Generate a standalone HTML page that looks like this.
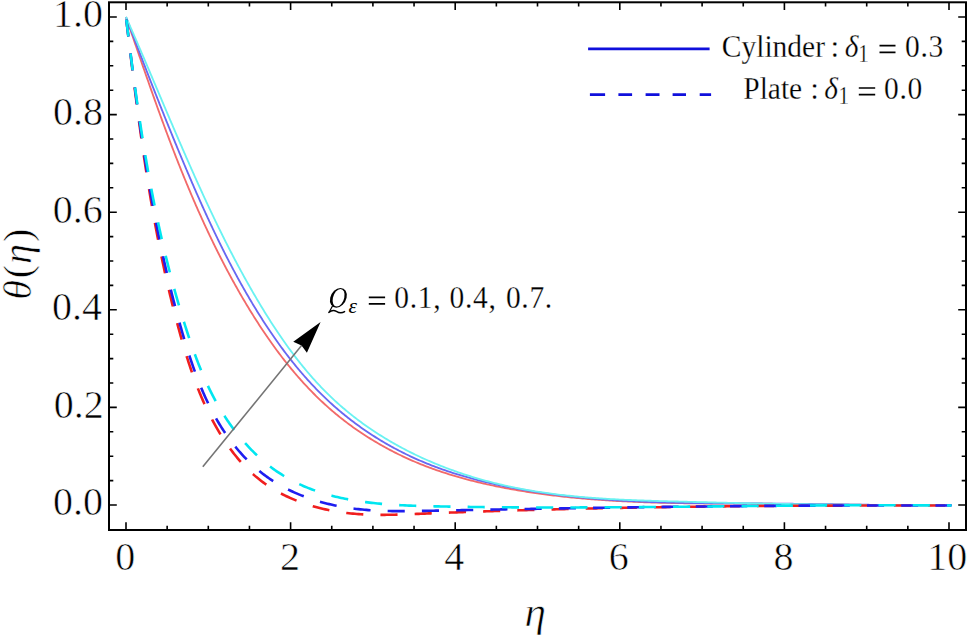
<!DOCTYPE html>
<html><head><meta charset="utf-8"><style>
html,body{margin:0;padding:0;background:#fff;}
body{width:968px;height:636px;overflow:hidden;}
svg{display:block;}
text{font-family:"Liberation Serif",serif;fill:#000;font-kerning:none;stroke:#fff;stroke-width:0.6px;paint-order:fill;}
text.s{stroke-width:0.25px;}
text.n{stroke:none;}
</style></head><body>
<svg width="968" height="636" viewBox="0 0 968 636">
<rect width="968" height="636" fill="#fff"/>
<path d="M125.99 17.01 L126.58 18.71 L127.16 20.42 L127.75 22.13 L128.34 23.84 L128.92 25.54 L129.51 27.25 L130.09 28.96 L130.68 30.67 L131.26 32.38 L131.85 34.09 L132.43 35.80 L133.02 37.51 L133.61 39.22 L134.19 40.93 L134.78 42.65 L135.37 44.36 L135.96 46.07 L136.54 47.78 L137.13 49.49 L137.72 51.20 L138.31 52.92 L138.90 54.63 L139.49 56.34 L140.08 58.05 L140.67 59.77 L141.26 61.48 L141.85 63.19 L142.44 64.90 L143.04 66.62 L143.63 68.33 L144.23 70.04 L144.82 71.75 L145.42 73.47 L146.01 75.18 L146.61 76.89 L147.21 78.60 L147.81 80.32 L148.41 82.03 L149.01 83.74 L149.61 85.45 L150.21 87.16 L150.82 88.88 L151.42 90.59 L152.03 92.30 L152.63 94.01 L153.24 95.72 L153.85 97.43 L154.46 99.14 L155.07 100.85 L155.68 102.56 L156.29 104.27 L156.91 105.98 L157.52 107.69 L158.14 109.40 L158.76 111.10 L159.37 112.81 L159.99 114.52 L160.62 116.23 L161.24 117.93 L161.86 119.64 L162.49 121.35 L163.12 123.05 L163.75 124.76 L164.38 126.46 L165.01 128.16 L165.64 129.87 L166.28 131.57 L166.91 133.27 L167.55 134.97 L168.19 136.67 L168.83 138.38 L169.47 140.08 L170.12 141.77 L170.77 143.47 L171.41 145.17 L172.06 146.87 L172.72 148.57 L173.37 150.26 L174.03 151.96 L174.68 153.65 L175.34 155.35 L176.00 157.04 L176.67 158.73 L177.33 160.42 L178.00 162.12 L178.67 163.81 L179.34 165.49 L180.01 167.18 L180.69 168.87 L181.37 170.56 L182.05 172.24 L182.73 173.93 L183.41 175.61 L184.10 177.30 L184.79 178.98 L185.48 180.66 L186.17 182.34 L186.87 184.02 L187.57 185.70 L188.27 187.38 L188.97 189.06 L189.68 190.73 L190.38 192.41 L191.09 194.08 L191.81 195.75 L192.52 197.43 L193.24 199.10 L193.96 200.77 L194.68 202.43 L195.41 204.10 L196.14 205.77 L196.87 207.43 L197.60 209.10 L198.34 210.76 L199.08 212.42 L199.82 214.08 L200.56 215.74 L201.31 217.40 L202.06 219.05 L202.82 220.71 L203.57 222.36 L204.33 224.02 L205.09 225.67 L205.86 227.32 L206.63 228.97 L207.40 230.61 L208.17 232.26 L208.95 233.91 L209.73 235.55 L210.52 237.19 L211.30 238.83 L212.09 240.47 L212.89 242.11 L213.68 243.74 L214.48 245.38 L215.29 247.01 L216.09 248.64 L216.90 250.28 L217.71 251.90 L218.53 253.53 L219.35 255.16 L220.17 256.78 L221.00 258.40 L221.83 260.02 L222.67 261.64 L223.50 263.26 L224.34 264.88 L225.19 266.49 L226.04 268.11 L226.89 269.72 L227.74 271.33 L228.60 272.93 L229.47 274.54 L230.33 276.14 L231.20 277.75 L232.08 279.35 L232.95 280.95 L233.84 282.54 L234.72 284.14 L235.61 285.73 L236.51 287.32 L237.40 288.91 L238.30 290.50 L239.21 292.09 L240.12 293.67 L241.03 295.25 L241.95 296.84 L242.87 298.41 L243.80 299.99 L244.73 301.56 L245.66 303.14 L246.60 304.71 L247.54 306.28 L248.49 307.84 L249.44 309.41 L250.40 310.97 L251.36 312.53 L252.32 314.08 L253.29 315.63 L254.26 317.19 L255.24 318.73 L256.22 320.28 L257.21 321.82 L258.20 323.36 L259.20 324.89 L260.20 326.43 L261.20 327.95 L262.22 329.48 L263.23 331.00 L264.25 332.52 L265.28 334.03 L266.31 335.55 L267.34 337.05 L268.38 338.56 L269.43 340.05 L270.48 341.55 L271.54 343.04 L272.60 344.53 L273.66 346.01 L274.74 347.49 L275.81 348.96 L276.90 350.43 L277.98 351.89 L279.08 353.35 L280.17 354.81 L281.28 356.26 L282.39 357.70 L283.50 359.14 L284.62 360.57 L285.75 362.00 L286.88 363.43 L288.02 364.85 L289.16 366.26 L290.31 367.67 L291.47 369.07 L292.63 370.46 L293.80 371.85 L294.97 373.24 L296.15 374.62 L297.34 375.99 L298.53 377.36 L299.72 378.72 L300.93 380.07 L302.14 381.42 L303.35 382.76 L304.57 384.09 L305.80 385.42 L307.04 386.74 L308.28 388.05 L309.53 389.36 L310.78 390.66 L312.04 391.96 L313.31 393.24 L314.58 394.52 L315.86 395.79 L317.15 397.06 L318.44 398.31 L319.74 399.56 L321.05 400.80 L322.36 402.04 L323.68 403.27 L325.01 404.48 L326.34 405.69 L327.68 406.90 L329.03 408.09 L330.39 409.28 L331.75 410.46 L333.12 411.63 L334.49 412.79 L335.88 413.94 L337.27 415.08 L338.66 416.22 L340.07 417.35 L341.48 418.47 L342.89 419.58 L344.32 420.68 L345.75 421.78 L347.18 422.87 L348.62 423.94 L350.07 425.01 L351.53 426.07 L352.99 427.13 L354.46 428.17 L355.93 429.21 L357.41 430.24 L358.90 431.26 L360.39 432.27 L361.89 433.27 L363.39 434.26 L364.90 435.25 L366.41 436.22 L367.93 437.19 L369.46 438.15 L370.99 439.10 L372.53 440.05 L374.07 440.98 L375.62 441.91 L377.18 442.82 L378.74 443.73 L380.30 444.63 L381.87 445.52 L383.45 446.40 L385.03 447.28 L386.61 448.14 L388.20 449.00 L389.80 449.85 L391.40 450.69 L393.00 451.52 L394.61 452.34 L396.23 453.15 L397.85 453.96 L399.47 454.75 L401.10 455.54 L402.73 456.32 L404.37 457.09 L406.01 457.85 L407.66 458.60 L409.31 459.34 L410.97 460.08 L412.63 460.80 L414.29 461.52 L415.96 462.23 L417.63 462.93 L419.31 463.62 L420.99 464.30 L422.67 464.97 L424.36 465.63 L426.05 466.29 L427.74 466.93 L429.44 467.57 L431.15 468.20 L432.85 468.82 L434.56 469.43 L436.27 470.04 L437.99 470.63 L439.71 471.22 L441.43 471.80 L443.16 472.37 L444.89 472.94 L446.62 473.49 L448.35 474.04 L450.09 474.58 L451.83 475.11 L453.57 475.64 L455.32 476.16 L457.07 476.67 L458.82 477.17 L460.57 477.67 L462.33 478.16 L464.08 478.64 L465.84 479.11 L467.60 479.58 L469.37 480.05 L471.13 480.50 L472.90 480.95 L474.67 481.39 L476.44 481.83 L478.22 482.26 L479.99 482.68 L481.77 483.10 L483.55 483.51 L485.33 483.91 L487.11 484.31 L488.89 484.70 L490.67 485.09 L492.46 485.47 L494.25 485.85 L496.03 486.22 L497.82 486.58 L499.61 486.94 L501.40 487.29 L503.19 487.64 L504.98 487.99 L506.77 488.32 L508.57 488.66 L510.36 488.99 L512.15 489.31 L513.95 489.63 L515.74 489.94 L517.54 490.25 L519.33 490.56 L521.13 490.86 L522.93 491.15 L524.72 491.44 L526.52 491.73 L528.32 492.01 L530.12 492.28 L531.92 492.56 L533.72 492.82 L535.52 493.09 L537.32 493.35 L539.12 493.60 L540.92 493.85 L542.73 494.10 L544.53 494.34 L546.33 494.58 L548.14 494.81 L549.94 495.04 L551.75 495.26 L553.55 495.48 L555.36 495.70 L557.16 495.91 L558.97 496.12 L560.78 496.33 L562.58 496.53 L564.39 496.73 L566.20 496.92 L568.01 497.11 L569.82 497.30 L571.63 497.48 L573.44 497.66 L575.25 497.83 L577.06 498.01 L578.87 498.17 L580.68 498.34 L582.49 498.50 L584.30 498.66 L586.11 498.81 L587.93 498.96 L589.74 499.11 L591.55 499.26 L593.37 499.40 L595.18 499.54 L596.99 499.67 L598.81 499.81 L600.62 499.93 L602.44 500.06 L604.25 500.18 L606.07 500.30 L607.88 500.42 L609.70 500.54 L611.52 500.65 L613.33 500.76 L615.15 500.86 L616.97 500.96 L618.78 501.06 L620.60 501.16 L622.42 501.26 L624.24 501.35 L626.05 501.44 L627.87 501.53 L629.69 501.61 L631.51 501.70 L633.33 501.78 L635.15 501.86 L636.97 501.93 L638.79 502.00 L640.61 502.08 L642.43 502.14 L644.25 502.21 L646.07 502.28 L647.89 502.34 L649.71 502.40 L651.53 502.46 L653.35 502.51 L655.17 502.57 L656.99 502.62 L658.81 502.67 L660.63 502.72 L662.46 502.77 L664.28 502.82 L666.10 502.86 L667.92 502.90 L669.74 502.94 L671.56 502.98 L673.39 503.02 L675.21 503.06 L677.03 503.09 L678.85 503.12 L680.67 503.15 L682.50 503.18 L684.32 503.21 L686.14 503.24 L687.96 503.27 L689.79 503.29 L691.61 503.32 L693.43 503.34 L695.25 503.36 L697.08 503.38 L698.90 503.40 L700.72 503.42 L702.54 503.44 L704.36 503.46 L706.19 503.47 L708.01 503.49 L709.83 503.50 L711.65 503.52 L713.48 503.53 L715.30 503.54 L717.12 503.55 L718.94 503.56 L720.76 503.57 L722.59 503.58 L724.41 503.59 L726.23 503.60 L728.05 503.61 L729.87 503.62 L731.69 503.63 L733.51 503.63 L735.34 503.64 L737.16 503.65 L738.98 503.65 L740.80 503.66 L742.62 503.67 L744.44 503.67 L746.26 503.68 L748.08 503.69 L749.90 503.69 L751.72 503.70 L753.54 503.71 L755.36 503.71 L757.18 503.72 L759.00 503.73 L760.82 503.73 L762.63 503.74 L764.45 503.75 L766.27 503.76 L768.09 503.77 L769.91 503.78 L771.73 503.79 L773.54 503.80 L775.36 503.81 L777.18 503.82 L778.99 503.83 L780.81 503.84 L782.63 503.86 L784.44 503.87 L786.26 503.89 L788.07 503.90 L789.89 503.92 L791.70 503.93 L793.52 503.95 L795.33 503.97 L797.15 503.99 L798.96 504.01 L800.78 504.02 L802.59 504.04 L804.40 504.06 L806.22 504.08 L808.03 504.11 L809.85 504.13 L811.66 504.15 L813.47 504.17 L815.28 504.19 L817.10 504.21 L818.91 504.24 L820.72 504.26 L822.54 504.28 L824.35 504.31 L826.16 504.33 L827.97 504.35 L829.79 504.38 L831.60 504.40 L833.41 504.42 L835.22 504.45 L837.03 504.47 L838.85 504.50 L840.66 504.52 L842.47 504.54 L844.28 504.57 L846.10 504.59 L847.91 504.61 L849.72 504.64 L851.53 504.66 L853.34 504.68 L855.16 504.71 L856.97 504.73 L858.78 504.75 L860.59 504.77 L862.41 504.80 L864.22 504.82 L866.03 504.84 L867.85 504.86 L869.66 504.88 L871.47 504.90 L873.29 504.92 L875.10 504.94 L876.91 504.96 L878.73 504.98 L880.54 504.99 L882.36 505.01 L884.17 505.03 L885.99 505.04 L887.80 505.06 L889.61 505.08 L891.43 505.09 L893.25 505.10 L895.06 505.12 L896.88 505.13 L898.69 505.14 L900.51 505.15 L902.33 505.16 L904.14 505.17 L905.96 505.18 L907.78 505.19 L909.60 505.19 L911.41 505.20 L913.23 505.20 L915.05 505.21 L916.87 505.21 L918.69 505.21 L920.51 505.21 L922.33 505.21 L924.15 505.21 L925.97 505.21 L927.79 505.21 L929.61 505.20 L931.43 505.20 L933.26 505.19 L935.08 505.18 L936.90 505.18 L938.72 505.16 L940.55 505.15 L942.37 505.14 L944.20 505.13 L946.02 505.11 L947.85 505.10 L949.67 505.08 L951.50 505.06" fill="none" stroke="#f26a6a" stroke-width="1.85"/>
<path d="M126.00 17.00 L126.64 18.69 L127.28 20.38 L127.92 22.07 L128.56 23.76 L129.20 25.45 L129.84 27.14 L130.48 28.83 L131.13 30.52 L131.77 32.21 L132.41 33.90 L133.05 35.58 L133.70 37.27 L134.34 38.96 L134.98 40.65 L135.63 42.33 L136.27 44.02 L136.92 45.71 L137.56 47.39 L138.21 49.08 L138.85 50.76 L139.50 52.45 L140.15 54.14 L140.79 55.82 L141.44 57.50 L142.09 59.19 L142.74 60.87 L143.39 62.56 L144.04 64.24 L144.69 65.92 L145.34 67.61 L145.99 69.29 L146.64 70.97 L147.30 72.65 L147.95 74.34 L148.60 76.02 L149.26 77.70 L149.91 79.38 L150.57 81.06 L151.23 82.74 L151.88 84.42 L152.54 86.10 L153.20 87.78 L153.86 89.46 L154.52 91.14 L155.18 92.82 L155.84 94.50 L156.50 96.17 L157.16 97.85 L157.83 99.53 L158.49 101.21 L159.15 102.88 L159.82 104.56 L160.49 106.24 L161.15 107.91 L161.82 109.59 L162.49 111.27 L163.16 112.94 L163.83 114.62 L164.50 116.29 L165.17 117.97 L165.85 119.64 L166.52 121.31 L167.20 122.99 L167.87 124.66 L168.55 126.33 L169.23 128.01 L169.91 129.68 L170.59 131.35 L171.27 133.02 L171.95 134.70 L172.63 136.37 L173.32 138.04 L174.00 139.71 L174.69 141.38 L175.37 143.05 L176.06 144.72 L176.75 146.39 L177.44 148.06 L178.13 149.73 L178.82 151.40 L179.52 153.07 L180.21 154.74 L180.91 156.40 L181.60 158.07 L182.30 159.74 L183.00 161.41 L183.70 163.07 L184.40 164.74 L185.11 166.40 L185.81 168.07 L186.52 169.74 L187.22 171.40 L187.93 173.07 L188.64 174.73 L189.35 176.39 L190.06 178.06 L190.78 179.72 L191.49 181.38 L192.21 183.05 L192.93 184.71 L193.65 186.37 L194.37 188.03 L195.09 189.69 L195.82 191.35 L196.55 193.01 L197.28 194.66 L198.01 196.32 L198.74 197.98 L199.47 199.63 L200.21 201.29 L200.95 202.94 L201.69 204.60 L202.43 206.25 L203.18 207.90 L203.93 209.55 L204.67 211.20 L205.43 212.85 L206.18 214.50 L206.94 216.15 L207.69 217.79 L208.46 219.44 L209.22 221.08 L209.98 222.72 L210.75 224.37 L211.52 226.01 L212.30 227.65 L213.07 229.29 L213.85 230.92 L214.63 232.56 L215.41 234.20 L216.20 235.83 L216.99 237.46 L217.78 239.10 L218.58 240.73 L219.37 242.36 L220.18 243.98 L220.98 245.61 L221.79 247.24 L222.59 248.86 L223.41 250.48 L224.22 252.10 L225.04 253.72 L225.86 255.34 L226.69 256.96 L227.52 258.57 L228.35 260.19 L229.18 261.80 L230.02 263.41 L230.86 265.02 L231.71 266.63 L232.56 268.23 L233.41 269.84 L234.26 271.44 L235.12 273.04 L235.99 274.64 L236.85 276.24 L237.72 277.83 L238.60 279.43 L239.47 281.02 L240.35 282.61 L241.24 284.20 L242.13 285.79 L243.02 287.37 L243.92 288.95 L244.82 290.53 L245.72 292.11 L246.63 293.69 L247.54 295.26 L248.46 296.84 L249.38 298.41 L250.30 299.98 L251.23 301.54 L252.17 303.11 L253.10 304.67 L254.05 306.23 L254.99 307.79 L255.94 309.34 L256.90 310.90 L257.86 312.45 L258.82 314.00 L259.79 315.54 L260.76 317.08 L261.74 318.62 L262.72 320.16 L263.71 321.69 L264.70 323.22 L265.70 324.74 L266.70 326.27 L267.71 327.79 L268.72 329.30 L269.73 330.82 L270.75 332.32 L271.78 333.83 L272.81 335.33 L273.84 336.83 L274.89 338.32 L275.93 339.81 L276.98 341.30 L278.04 342.78 L279.10 344.25 L280.17 345.73 L281.24 347.20 L282.32 348.66 L283.40 350.12 L284.49 351.57 L285.58 353.02 L286.68 354.47 L287.78 355.91 L288.89 357.34 L290.01 358.77 L291.13 360.19 L292.26 361.61 L293.39 363.03 L294.53 364.44 L295.67 365.84 L296.82 367.24 L297.97 368.63 L299.14 370.02 L300.30 371.40 L301.48 372.77 L302.66 374.14 L303.84 375.50 L305.03 376.86 L306.23 378.21 L307.43 379.55 L308.64 380.89 L309.86 382.22 L311.08 383.55 L312.31 384.87 L313.54 386.18 L314.78 387.48 L316.03 388.78 L317.29 390.07 L318.55 391.36 L319.81 392.63 L321.08 393.90 L322.36 395.17 L323.65 396.42 L324.94 397.67 L326.24 398.91 L327.55 400.14 L328.86 401.37 L330.18 402.59 L331.51 403.80 L332.84 405.00 L334.18 406.19 L335.53 407.38 L336.88 408.56 L338.24 409.73 L339.61 410.89 L340.98 412.05 L342.36 413.20 L343.75 414.34 L345.14 415.47 L346.54 416.59 L347.94 417.71 L349.36 418.81 L350.77 419.91 L352.20 421.00 L353.63 422.09 L355.06 423.16 L356.51 424.23 L357.95 425.29 L359.41 426.34 L360.87 427.38 L362.33 428.42 L363.81 429.44 L365.28 430.46 L366.77 431.47 L368.26 432.47 L369.75 433.46 L371.25 434.45 L372.76 435.42 L374.27 436.39 L375.78 437.35 L377.31 438.30 L378.83 439.25 L380.37 440.18 L381.90 441.11 L383.45 442.02 L385.00 442.93 L386.55 443.83 L388.11 444.73 L389.67 445.61 L391.24 446.48 L392.82 447.35 L394.40 448.21 L395.98 449.06 L397.57 449.90 L399.16 450.73 L400.76 451.55 L402.36 452.37 L403.97 453.17 L405.58 453.97 L407.20 454.76 L408.82 455.54 L410.45 456.31 L412.08 457.07 L413.71 457.82 L415.35 458.57 L417.00 459.30 L418.64 460.03 L420.30 460.75 L421.95 461.46 L423.61 462.16 L425.28 462.85 L426.95 463.53 L428.62 464.20 L430.29 464.87 L431.97 465.53 L433.66 466.17 L435.35 466.81 L437.04 467.44 L438.73 468.07 L440.43 468.68 L442.13 469.29 L443.84 469.89 L445.54 470.48 L447.26 471.06 L448.97 471.64 L450.69 472.20 L452.41 472.76 L454.13 473.31 L455.86 473.86 L457.59 474.40 L459.32 474.92 L461.05 475.45 L462.79 475.96 L464.53 476.47 L466.27 476.97 L468.02 477.47 L469.76 477.95 L471.51 478.43 L473.26 478.91 L475.02 479.37 L476.77 479.83 L478.53 480.29 L480.29 480.73 L482.05 481.18 L483.81 481.61 L485.58 482.04 L487.34 482.46 L489.11 482.88 L490.88 483.29 L492.65 483.69 L494.42 484.09 L496.19 484.48 L497.97 484.87 L499.74 485.25 L501.52 485.63 L503.30 486.00 L505.08 486.36 L506.86 486.72 L508.64 487.07 L510.42 487.42 L512.20 487.77 L513.98 488.11 L515.76 488.44 L517.55 488.77 L519.33 489.09 L521.12 489.41 L522.90 489.73 L524.69 490.04 L526.48 490.34 L528.26 490.64 L530.05 490.93 L531.84 491.22 L533.63 491.51 L535.42 491.79 L537.21 492.07 L539.00 492.34 L540.79 492.61 L542.59 492.87 L544.38 493.13 L546.17 493.38 L547.97 493.63 L549.76 493.88 L551.56 494.12 L553.35 494.36 L555.15 494.59 L556.94 494.82 L558.74 495.04 L560.54 495.26 L562.34 495.48 L564.14 495.69 L565.93 495.90 L567.73 496.10 L569.53 496.31 L571.33 496.50 L573.14 496.70 L574.94 496.89 L576.74 497.07 L578.54 497.25 L580.34 497.43 L582.15 497.61 L583.95 497.78 L585.76 497.94 L587.56 498.11 L589.36 498.27 L591.17 498.43 L592.98 498.58 L594.78 498.73 L596.59 498.88 L598.39 499.02 L600.20 499.16 L602.01 499.30 L603.82 499.44 L605.63 499.57 L607.43 499.70 L609.24 499.82 L611.05 499.94 L612.86 500.06 L614.67 500.18 L616.48 500.29 L618.29 500.40 L620.10 500.51 L621.91 500.62 L623.72 500.72 L625.54 500.82 L627.35 500.92 L629.16 501.01 L630.97 501.10 L632.78 501.19 L634.60 501.28 L636.41 501.37 L638.22 501.45 L640.04 501.53 L641.85 501.61 L643.66 501.68 L645.48 501.75 L647.29 501.83 L649.11 501.89 L650.92 501.96 L652.73 502.03 L654.55 502.09 L656.36 502.15 L658.18 502.21 L659.99 502.26 L661.81 502.32 L663.63 502.37 L665.44 502.42 L667.26 502.47 L669.07 502.52 L670.89 502.56 L672.70 502.61 L674.52 502.65 L676.34 502.69 L678.15 502.73 L679.97 502.77 L681.78 502.81 L683.60 502.84 L685.42 502.87 L687.23 502.91 L689.05 502.94 L690.87 502.97 L692.68 503.00 L694.50 503.02 L696.32 503.05 L698.13 503.07 L699.95 503.10 L701.77 503.12 L703.58 503.14 L705.40 503.16 L707.21 503.18 L709.03 503.20 L710.85 503.22 L712.66 503.24 L714.48 503.25 L716.29 503.27 L718.11 503.28 L719.93 503.30 L721.74 503.31 L723.56 503.33 L725.37 503.34 L727.19 503.35 L729.00 503.36 L730.82 503.37 L732.63 503.39 L734.45 503.40 L736.26 503.41 L738.08 503.42 L739.89 503.43 L741.71 503.44 L743.52 503.45 L745.33 503.45 L747.15 503.46 L748.96 503.47 L750.77 503.48 L752.59 503.49 L754.40 503.50 L756.21 503.51 L758.03 503.52 L759.84 503.53 L761.65 503.54 L763.46 503.55 L765.27 503.56 L767.08 503.57 L768.89 503.58 L770.71 503.60 L772.52 503.61 L774.33 503.62 L776.14 503.64 L777.94 503.65 L779.75 503.66 L781.56 503.68 L783.37 503.70 L785.18 503.71 L786.99 503.73 L788.79 503.75 L790.60 503.76 L792.41 503.78 L794.22 503.80 L796.02 503.82 L797.83 503.84 L799.63 503.86 L801.44 503.89 L803.25 503.91 L805.05 503.93 L806.86 503.95 L808.66 503.98 L810.47 504.00 L812.27 504.02 L814.08 504.05 L815.88 504.07 L817.68 504.09 L819.49 504.12 L821.29 504.14 L823.10 504.17 L824.90 504.19 L826.70 504.22 L828.51 504.24 L830.31 504.27 L832.11 504.29 L833.92 504.32 L835.72 504.35 L837.52 504.37 L839.33 504.40 L841.13 504.42 L842.94 504.45 L844.74 504.47 L846.54 504.50 L848.35 504.52 L850.15 504.55 L851.95 504.57 L853.76 504.60 L855.56 504.62 L857.36 504.65 L859.17 504.67 L860.97 504.69 L862.78 504.72 L864.58 504.74 L866.38 504.76 L868.19 504.78 L869.99 504.81 L871.80 504.83 L873.60 504.85 L875.41 504.87 L877.21 504.89 L879.02 504.91 L880.82 504.93 L882.63 504.95 L884.44 504.97 L886.24 504.98 L888.05 505.00 L889.85 505.02 L891.66 505.03 L893.47 505.05 L895.28 505.06 L897.08 505.07 L898.89 505.09 L900.70 505.10 L902.51 505.11 L904.32 505.12 L906.13 505.13 L907.94 505.14 L909.75 505.15 L911.56 505.15 L913.37 505.16 L915.18 505.16 L916.99 505.17 L918.80 505.17 L920.62 505.17 L922.43 505.17 L924.24 505.17 L926.06 505.17 L927.87 505.17 L929.69 505.17 L931.50 505.16 L933.32 505.16 L935.13 505.15 L936.95 505.14 L938.77 505.13 L940.58 505.12 L942.40 505.11 L944.22 505.10 L946.04 505.09 L947.86 505.07 L949.68 505.05 L951.50 505.04" fill="none" stroke="#6868f2" stroke-width="1.85"/>
<path d="M126.01 16.99 L126.74 18.64 L127.47 20.28 L128.19 21.93 L128.92 23.57 L129.64 25.22 L130.36 26.86 L131.09 28.51 L131.81 30.16 L132.53 31.80 L133.25 33.45 L133.96 35.10 L134.68 36.75 L135.40 38.40 L136.11 40.05 L136.83 41.70 L137.54 43.35 L138.25 45.00 L138.97 46.65 L139.68 48.31 L140.39 49.96 L141.10 51.61 L141.81 53.27 L142.52 54.92 L143.23 56.57 L143.93 58.23 L144.64 59.88 L145.35 61.54 L146.05 63.19 L146.76 64.85 L147.46 66.50 L148.17 68.16 L148.87 69.82 L149.58 71.47 L150.28 73.13 L150.99 74.78 L151.69 76.44 L152.39 78.10 L153.10 79.75 L153.80 81.41 L154.50 83.07 L155.21 84.73 L155.91 86.38 L156.61 88.04 L157.31 89.70 L158.02 91.35 L158.72 93.01 L159.42 94.67 L160.13 96.32 L160.83 97.98 L161.53 99.64 L162.23 101.30 L162.94 102.95 L163.64 104.61 L164.35 106.27 L165.05 107.92 L165.75 109.58 L166.46 111.24 L167.16 112.89 L167.87 114.55 L168.57 116.20 L169.28 117.86 L169.99 119.52 L170.69 121.17 L171.40 122.83 L172.11 124.48 L172.82 126.14 L173.52 127.79 L174.23 129.44 L174.94 131.10 L175.65 132.75 L176.36 134.41 L177.08 136.06 L177.79 137.71 L178.50 139.36 L179.21 141.02 L179.93 142.67 L180.64 144.32 L181.36 145.97 L182.08 147.62 L182.79 149.27 L183.51 150.92 L184.23 152.57 L184.95 154.22 L185.67 155.87 L186.39 157.52 L187.12 159.16 L187.84 160.81 L188.57 162.46 L189.29 164.10 L190.02 165.75 L190.75 167.40 L191.48 169.04 L192.21 170.68 L192.94 172.33 L193.67 173.97 L194.40 175.61 L195.14 177.26 L195.88 178.90 L196.61 180.54 L197.35 182.18 L198.09 183.82 L198.84 185.46 L199.58 187.09 L200.33 188.73 L201.07 190.37 L201.82 192.00 L202.57 193.64 L203.32 195.27 L204.07 196.91 L204.83 198.54 L205.59 200.17 L206.34 201.81 L207.10 203.44 L207.87 205.07 L208.63 206.70 L209.39 208.33 L210.16 209.95 L210.93 211.58 L211.70 213.21 L212.48 214.83 L213.25 216.46 L214.03 218.08 L214.81 219.70 L215.59 221.32 L216.37 222.94 L217.16 224.56 L217.95 226.18 L218.74 227.80 L219.53 229.42 L220.32 231.03 L221.12 232.65 L221.92 234.26 L222.72 235.88 L223.53 237.49 L224.33 239.10 L225.14 240.71 L225.95 242.32 L226.77 243.93 L227.58 245.53 L228.40 247.14 L229.23 248.74 L230.05 250.35 L230.88 251.95 L231.71 253.55 L232.54 255.15 L233.38 256.75 L234.21 258.35 L235.05 259.95 L235.90 261.54 L236.75 263.13 L237.60 264.73 L238.45 266.32 L239.30 267.91 L240.16 269.50 L241.03 271.09 L241.89 272.68 L242.76 274.26 L243.63 275.85 L244.51 277.43 L245.38 279.01 L246.26 280.59 L247.15 282.17 L248.04 283.75 L248.93 285.32 L249.82 286.90 L250.72 288.47 L251.62 290.04 L252.52 291.62 L253.43 293.18 L254.34 294.75 L255.26 296.32 L256.18 297.88 L257.10 299.45 L258.03 301.01 L258.96 302.57 L259.89 304.13 L260.83 305.69 L261.77 307.24 L262.71 308.80 L263.66 310.35 L264.61 311.90 L265.57 313.44 L266.53 314.99 L267.50 316.53 L268.47 318.07 L269.44 319.61 L270.42 321.14 L271.40 322.67 L272.39 324.20 L273.38 325.73 L274.38 327.25 L275.38 328.77 L276.38 330.28 L277.39 331.80 L278.41 333.31 L279.43 334.81 L280.45 336.31 L281.48 337.81 L282.51 339.30 L283.55 340.79 L284.60 342.28 L285.65 343.76 L286.70 345.24 L287.76 346.71 L288.83 348.18 L289.90 349.64 L290.97 351.10 L292.05 352.55 L293.14 354.00 L294.23 355.45 L295.33 356.88 L296.43 358.32 L297.54 359.75 L298.66 361.17 L299.78 362.59 L300.90 364.00 L302.04 365.40 L303.18 366.80 L304.32 368.20 L305.47 369.58 L306.63 370.97 L307.79 372.34 L308.96 373.71 L310.13 375.07 L311.32 376.43 L312.50 377.78 L313.70 379.12 L314.90 380.46 L316.11 381.79 L317.32 383.11 L318.54 384.42 L319.77 385.73 L321.00 387.03 L322.25 388.32 L323.49 389.61 L324.75 390.88 L326.01 392.15 L327.28 393.42 L328.56 394.67 L329.84 395.92 L331.13 397.15 L332.43 398.38 L333.73 399.60 L335.04 400.82 L336.36 402.02 L337.69 403.22 L339.02 404.41 L340.36 405.59 L341.71 406.76 L343.06 407.93 L344.42 409.08 L345.79 410.23 L347.16 411.37 L348.54 412.50 L349.93 413.62 L351.32 414.74 L352.72 415.85 L354.12 416.95 L355.53 418.04 L356.95 419.12 L358.38 420.20 L359.81 421.27 L361.24 422.33 L362.69 423.38 L364.13 424.42 L365.59 425.46 L367.05 426.48 L368.51 427.50 L369.99 428.52 L371.46 429.52 L372.95 430.52 L374.44 431.50 L375.93 432.48 L377.43 433.46 L378.93 434.42 L380.44 435.38 L381.96 436.33 L383.48 437.27 L385.01 438.20 L386.54 439.13 L388.08 440.04 L389.62 440.95 L391.16 441.86 L392.72 442.75 L394.27 443.64 L395.83 444.52 L397.40 445.39 L398.97 446.25 L400.55 447.11 L402.13 447.96 L403.71 448.80 L405.30 449.63 L406.89 450.45 L408.49 451.27 L410.09 452.08 L411.70 452.88 L413.31 453.68 L414.93 454.46 L416.55 455.24 L418.17 456.02 L419.80 456.78 L421.43 457.54 L423.06 458.29 L424.70 459.03 L426.35 459.76 L427.99 460.49 L429.64 461.21 L431.30 461.92 L432.96 462.62 L434.62 463.32 L436.28 464.01 L437.95 464.69 L439.62 465.36 L441.30 466.03 L442.98 466.69 L444.66 467.34 L446.34 467.99 L448.03 468.62 L449.72 469.25 L451.42 469.87 L453.11 470.49 L454.81 471.10 L456.52 471.70 L458.22 472.29 L459.93 472.88 L461.64 473.45 L463.35 474.03 L465.07 474.59 L466.79 475.15 L468.51 475.70 L470.23 476.24 L471.96 476.77 L473.69 477.30 L475.42 477.82 L477.15 478.33 L478.89 478.84 L480.62 479.34 L482.36 479.83 L484.10 480.31 L485.85 480.79 L487.59 481.26 L489.34 481.72 L491.09 482.18 L492.84 482.63 L494.59 483.07 L496.34 483.50 L498.10 483.93 L499.86 484.35 L501.61 484.77 L503.37 485.17 L505.13 485.57 L506.90 485.96 L508.66 486.35 L510.42 486.73 L512.19 487.10 L513.96 487.46 L515.73 487.82 L517.50 488.17 L519.27 488.52 L521.04 488.86 L522.81 489.19 L524.58 489.51 L526.36 489.83 L528.14 490.15 L529.91 490.45 L531.69 490.75 L533.47 491.05 L535.25 491.34 L537.03 491.62 L538.81 491.90 L540.60 492.17 L542.38 492.43 L544.17 492.69 L545.95 492.95 L547.74 493.20 L549.53 493.44 L551.32 493.68 L553.10 493.91 L554.90 494.14 L556.69 494.37 L558.48 494.58 L560.27 494.80 L562.06 495.01 L563.86 495.21 L565.65 495.41 L567.45 495.60 L569.24 495.79 L571.04 495.98 L572.84 496.16 L574.64 496.34 L576.43 496.51 L578.23 496.68 L580.03 496.84 L581.83 497.00 L583.64 497.16 L585.44 497.31 L587.24 497.46 L589.04 497.60 L590.84 497.74 L592.65 497.88 L594.45 498.01 L596.26 498.14 L598.06 498.27 L599.87 498.39 L601.67 498.51 L603.48 498.63 L605.28 498.74 L607.09 498.85 L608.90 498.96 L610.70 499.06 L612.51 499.17 L614.32 499.26 L616.13 499.36 L617.94 499.45 L619.75 499.55 L621.55 499.63 L623.36 499.72 L625.17 499.80 L626.98 499.89 L628.79 499.97 L630.60 500.04 L632.41 500.12 L634.22 500.19 L636.03 500.26 L637.84 500.33 L639.65 500.40 L641.46 500.47 L643.27 500.53 L645.08 500.59 L646.89 500.66 L648.70 500.72 L650.51 500.77 L652.32 500.83 L654.13 500.89 L655.94 500.94 L657.74 501.00 L659.55 501.05 L661.36 501.10 L663.17 501.15 L664.98 501.20 L666.79 501.25 L668.60 501.30 L670.40 501.35 L672.21 501.40 L674.02 501.45 L675.83 501.50 L677.63 501.54 L679.44 501.59 L681.24 501.64 L683.05 501.68 L684.86 501.73 L686.66 501.78 L688.47 501.82 L690.27 501.87 L692.07 501.92 L693.88 501.96 L695.68 502.01 L697.48 502.06 L699.29 502.10 L701.09 502.15 L702.89 502.19 L704.69 502.24 L706.50 502.28 L708.30 502.33 L710.10 502.37 L711.90 502.42 L713.70 502.46 L715.50 502.50 L717.30 502.55 L719.10 502.59 L720.90 502.63 L722.70 502.68 L724.50 502.72 L726.30 502.76 L728.10 502.80 L729.90 502.85 L731.70 502.89 L733.50 502.93 L735.30 502.97 L737.10 503.01 L738.90 503.05 L740.70 503.09 L742.49 503.13 L744.29 503.17 L746.09 503.21 L747.89 503.25 L749.69 503.29 L751.49 503.32 L753.29 503.36 L755.08 503.40 L756.88 503.44 L758.68 503.47 L760.48 503.51 L762.28 503.54 L764.08 503.58 L765.88 503.61 L767.67 503.65 L769.47 503.68 L771.27 503.71 L773.07 503.75 L774.87 503.78 L776.67 503.81 L778.47 503.84 L780.27 503.87 L782.07 503.90 L783.86 503.93 L785.66 503.96 L787.46 503.99 L789.26 504.02 L791.06 504.05 L792.86 504.08 L794.66 504.10 L796.46 504.13 L798.26 504.16 L800.06 504.18 L801.86 504.21 L803.66 504.23 L805.46 504.26 L807.26 504.28 L809.07 504.30 L810.87 504.33 L812.67 504.35 L814.47 504.37 L816.27 504.39 L818.07 504.41 L819.87 504.43 L821.67 504.45 L823.47 504.47 L825.27 504.49 L827.08 504.51 L828.88 504.53 L830.68 504.55 L832.48 504.57 L834.28 504.58 L836.08 504.60 L837.89 504.62 L839.69 504.63 L841.49 504.65 L843.29 504.67 L845.09 504.68 L846.90 504.70 L848.70 504.71 L850.50 504.72 L852.30 504.74 L854.11 504.75 L855.91 504.76 L857.71 504.78 L859.51 504.79 L861.32 504.80 L863.12 504.81 L864.92 504.82 L866.73 504.83 L868.53 504.84 L870.33 504.85 L872.13 504.86 L873.94 504.87 L875.74 504.88 L877.54 504.89 L879.35 504.90 L881.15 504.91 L882.95 504.91 L884.76 504.92 L886.56 504.93 L888.36 504.93 L890.17 504.94 L891.97 504.95 L893.77 504.95 L895.58 504.96 L897.38 504.96 L899.19 504.97 L900.99 504.97 L902.79 504.98 L904.60 504.98 L906.40 504.99 L908.20 504.99 L910.01 504.99 L911.81 505.00 L913.62 505.00 L915.42 505.00 L917.22 505.00 L919.03 505.00 L920.83 505.01 L922.64 505.01 L924.44 505.01 L926.24 505.01 L928.05 505.01 L929.85 505.01 L931.66 505.01 L933.46 505.01 L935.26 505.01 L937.07 505.01 L938.87 505.01 L940.68 505.01 L942.48 505.01 L944.28 505.01 L946.09 505.01 L947.89 505.00 L949.70 505.00 L951.50 505.00" fill="none" stroke="#6af2f2" stroke-width="1.85"/>
<path d="M126.00 17.00 L126.24 18.99 L126.48 20.98 L126.72 22.96 L126.95 24.95 L127.19 26.94 L127.43 28.93 L127.67 30.91 L127.91 32.90 L128.15 34.88 L128.39 36.87 L128.62 38.85 L128.86 40.84 L129.10 42.82 L129.34 44.80 L129.58 46.78 L129.82 48.76 L130.06 50.75 L130.30 52.73 L130.54 54.71 L130.78 56.68 L131.02 58.66 L131.26 60.64 L131.51 62.62 L131.75 64.60 L131.99 66.57 L132.23 68.55 L132.48 70.52 L132.72 72.50 L132.97 74.47 L133.21 76.45 L133.46 78.42 L133.70 80.39 L133.95 82.37 L134.20 84.34 L134.45 86.31 L134.70 88.28 L134.95 90.25 L135.20 92.22 L135.45 94.19 L135.70 96.16 L135.95 98.13 L136.21 100.10 L136.46 102.06 L136.72 104.03 L136.97 106.00 L137.23 107.96 L137.49 109.93 L137.75 111.90 L138.01 113.86 L138.27 115.82 L138.54 117.79 L138.80 119.75 L139.06 121.72 L139.33 123.68 L139.60 125.64 L139.87 127.60 L140.14 129.56 L140.41 131.53 L140.68 133.49 L140.95 135.45 L141.23 137.41 L141.50 139.37 L141.78 141.33 L142.06 143.28 L142.34 145.24 L142.62 147.20 L142.90 149.16 L143.19 151.12 L143.48 153.07 L143.76 155.03 L144.05 156.99 L144.34 158.94 L144.64 160.90 L144.93 162.85 L145.23 164.81 L145.52 166.76 L145.82 168.71 L146.12 170.67 L146.43 172.62 L146.73 174.57 L147.04 176.53 L147.35 178.48 L147.66 180.43 L147.97 182.38 L148.28 184.33 L148.60 186.29 L148.92 188.24 L149.24 190.19 L149.56 192.14 L149.88 194.09 L150.21 196.04 L150.53 197.98 L150.86 199.93 L151.20 201.88 L151.53 203.83 L151.87 205.78 L152.21 207.73 L152.55 209.67 L152.89 211.62 L153.23 213.57 L153.58 215.51 L153.93 217.46 L154.28 219.41 L154.64 221.35 L155.00 223.30 L155.36 225.24 L155.72 227.19 L156.08 229.13 L156.45 231.08 L156.82 233.02 L157.19 234.96 L157.57 236.91 L157.94 238.85 L158.32 240.80 L158.71 242.74 L159.09 244.68 L159.48 246.62 L159.87 248.57 L160.26 250.51 L160.66 252.45 L161.06 254.39 L161.46 256.33 L161.86 258.28 L162.27 260.22 L162.68 262.16 L163.09 264.10 L163.51 266.04 L163.93 267.98 L164.35 269.92 L164.77 271.86 L165.20 273.80 L165.63 275.74 L166.07 277.68 L166.51 279.62 L166.95 281.56 L167.39 283.50 L167.84 285.44 L168.29 287.38 L168.74 289.31 L169.19 291.25 L169.65 293.19 L170.12 295.13 L170.58 297.07 L171.05 299.00 L171.53 300.94 L172.00 302.88 L172.48 304.82 L172.97 306.76 L173.45 308.69 L173.94 310.63 L174.44 312.57 L174.93 314.50 L175.43 316.44 L175.94 318.38 L176.45 320.31 L176.96 322.25 L177.47 324.19 L177.99 326.12 L178.52 328.06 L179.04 330.00 L179.57 331.93 L180.11 333.87 L180.65 335.80 L181.19 337.74 L181.74 339.67 L182.29 341.61 L182.85 343.54 L183.41 345.47 L183.98 347.40 L184.55 349.33 L185.13 351.26 L185.71 353.18 L186.31 355.11 L186.90 357.03 L187.51 358.95 L188.12 360.87 L188.74 362.78 L189.36 364.69 L190.00 366.60 L190.64 368.51 L191.28 370.41 L191.94 372.31 L192.60 374.21 L193.28 376.11 L193.96 378.00 L194.65 379.88 L195.34 381.77 L196.05 383.65 L196.77 385.52 L197.49 387.39 L198.23 389.26 L198.98 391.12 L199.73 392.98 L200.50 394.83 L201.27 396.68 L202.06 398.52 L202.86 400.36 L203.67 402.19 L204.49 404.02 L205.32 405.84 L206.16 407.65 L207.02 409.46 L207.89 411.27 L208.77 413.06 L209.66 414.85 L210.56 416.64 L211.48 418.42 L212.41 420.19 L213.35 421.95 L214.31 423.71 L215.28 425.46 L216.27 427.20 L217.27 428.93 L218.28 430.66 L219.30 432.38 L220.34 434.08 L221.40 435.78 L222.47 437.47 L223.55 439.15 L224.65 440.82 L225.76 442.47 L226.89 444.12 L228.03 445.75 L229.19 447.37 L230.36 448.97 L231.55 450.57 L232.75 452.14 L233.96 453.71 L235.20 455.26 L236.44 456.79 L237.71 458.31 L238.99 459.81 L240.28 461.29 L241.59 462.76 L242.91 464.21 L244.26 465.64 L245.61 467.05 L246.99 468.44 L248.37 469.82 L249.78 471.17 L251.20 472.50 L252.64 473.81 L254.09 475.10 L255.56 476.37 L257.05 477.62 L258.56 478.84 L260.08 480.04 L261.61 481.22 L263.17 482.38 L264.74 483.51 L266.32 484.62 L267.92 485.70 L269.54 486.77 L271.17 487.81 L272.81 488.83 L274.47 489.83 L276.14 490.81 L277.83 491.76 L279.53 492.69 L281.24 493.60 L282.96 494.50 L284.70 495.36 L286.45 496.21 L288.21 497.04 L289.98 497.84 L291.76 498.63 L293.55 499.40 L295.36 500.14 L297.17 500.86 L299.00 501.57 L300.83 502.25 L302.67 502.92 L304.52 503.56 L306.38 504.19 L308.25 504.79 L310.13 505.38 L312.02 505.94 L313.91 506.49 L315.81 507.02 L317.72 507.53 L319.63 508.02 L321.55 508.49 L323.48 508.95 L325.41 509.38 L327.35 509.80 L329.29 510.20 L331.24 510.58 L333.19 510.94 L335.14 511.29 L337.10 511.62 L339.07 511.93 L341.03 512.22 L343.01 512.50 L344.98 512.76 L346.95 513.00 L348.93 513.23 L350.91 513.44 L352.89 513.63 L354.88 513.80 L356.86 513.96 L358.85 514.11 L360.83 514.24 L362.82 514.36 L364.81 514.46 L366.80 514.55 L368.79 514.62 L370.78 514.69 L372.78 514.74 L374.77 514.78 L376.77 514.81 L378.76 514.83 L380.76 514.84 L382.76 514.84 L384.76 514.83 L386.75 514.82 L388.75 514.79 L390.75 514.76 L392.75 514.72 L394.75 514.68 L396.75 514.63 L398.76 514.57 L400.76 514.51 L402.76 514.45 L404.76 514.38 L406.76 514.30 L408.76 514.23 L410.77 514.15 L412.77 514.07 L414.77 513.99 L416.77 513.91 L418.77 513.83 L420.78 513.74 L422.78 513.66 L424.78 513.58 L426.78 513.50 L428.78 513.42 L430.78 513.34 L432.78 513.26 L434.78 513.18 L436.78 513.11 L438.78 513.03 L440.78 512.95 L442.78 512.88 L444.77 512.80 L446.77 512.72 L448.77 512.65 L450.77 512.57 L452.77 512.50 L454.76 512.43 L456.76 512.35 L458.76 512.28 L460.75 512.21 L462.75 512.14 L464.75 512.07 L466.74 511.99 L468.74 511.92 L470.73 511.85 L472.73 511.79 L474.72 511.72 L476.72 511.65 L478.71 511.58 L480.71 511.51 L482.70 511.45 L484.70 511.38 L486.69 511.31 L488.68 511.25 L490.68 511.18 L492.67 511.12 L494.66 511.05 L496.66 510.99 L498.65 510.93 L500.64 510.86 L502.64 510.80 L504.63 510.74 L506.62 510.68 L508.61 510.62 L510.60 510.56 L512.59 510.50 L514.59 510.44 L516.58 510.38 L518.57 510.32 L520.56 510.26 L522.55 510.20 L524.54 510.15 L526.53 510.09 L528.52 510.03 L530.51 509.98 L532.50 509.92 L534.49 509.86 L536.48 509.81 L538.47 509.76 L540.46 509.70 L542.45 509.65 L544.44 509.59 L546.42 509.54 L548.41 509.49 L550.40 509.44 L552.39 509.39 L554.38 509.33 L556.37 509.28 L558.35 509.23 L560.34 509.18 L562.33 509.13 L564.32 509.09 L566.30 509.04 L568.29 508.99 L570.28 508.94 L572.27 508.89 L574.25 508.85 L576.24 508.80 L578.23 508.75 L580.21 508.71 L582.20 508.66 L584.18 508.62 L586.17 508.57 L588.16 508.53 L590.14 508.48 L592.13 508.44 L594.11 508.40 L596.10 508.36 L598.08 508.31 L600.07 508.27 L602.06 508.23 L604.04 508.19 L606.03 508.15 L608.01 508.11 L610.00 508.07 L611.98 508.03 L613.97 507.99 L615.95 507.95 L617.93 507.91 L619.92 507.87 L621.90 507.84 L623.89 507.80 L625.87 507.76 L627.86 507.72 L629.84 507.69 L631.82 507.65 L633.81 507.62 L635.79 507.58 L637.78 507.55 L639.76 507.51 L641.74 507.48 L643.73 507.44 L645.71 507.41 L647.69 507.38 L649.68 507.34 L651.66 507.31 L653.64 507.28 L655.63 507.25 L657.61 507.22 L659.59 507.19 L661.58 507.16 L663.56 507.13 L665.54 507.10 L667.52 507.07 L669.51 507.04 L671.49 507.01 L673.47 506.98 L675.46 506.95 L677.44 506.92 L679.42 506.89 L681.40 506.87 L683.39 506.84 L685.37 506.81 L687.35 506.79 L689.33 506.76 L691.32 506.73 L693.30 506.71 L695.28 506.68 L697.26 506.66 L699.25 506.63 L701.23 506.61 L703.21 506.59 L705.19 506.56 L707.18 506.54 L709.16 506.52 L711.14 506.49 L713.12 506.47 L715.11 506.45 L717.09 506.43 L719.07 506.41 L721.05 506.39 L723.04 506.36 L725.02 506.34 L727.00 506.32 L728.98 506.30 L730.97 506.28 L732.95 506.26 L734.93 506.25 L736.91 506.23 L738.90 506.21 L740.88 506.19 L742.86 506.17 L744.84 506.15 L746.83 506.14 L748.81 506.12 L750.79 506.10 L752.78 506.09 L754.76 506.07 L756.74 506.05 L758.72 506.04 L760.71 506.02 L762.69 506.01 L764.67 505.99 L766.66 505.98 L768.64 505.96 L770.62 505.95 L772.60 505.94 L774.59 505.92 L776.57 505.91 L778.55 505.90 L780.54 505.88 L782.52 505.87 L784.50 505.86 L786.49 505.85 L788.47 505.83 L790.46 505.82 L792.44 505.81 L794.42 505.80 L796.41 505.79 L798.39 505.78 L800.37 505.77 L802.36 505.76 L804.34 505.75 L806.33 505.74 L808.31 505.73 L810.30 505.72 L812.28 505.71 L814.27 505.70 L816.25 505.69 L818.23 505.68 L820.22 505.68 L822.20 505.67 L824.19 505.66 L826.17 505.65 L828.16 505.65 L830.14 505.64 L832.13 505.63 L834.12 505.63 L836.10 505.62 L838.09 505.61 L840.07 505.61 L842.06 505.60 L844.04 505.60 L846.03 505.59 L848.02 505.59 L850.00 505.58 L851.99 505.58 L853.98 505.57 L855.96 505.57 L857.95 505.56 L859.94 505.56 L861.92 505.56 L863.91 505.55 L865.90 505.55 L867.89 505.55 L869.87 505.54 L871.86 505.54 L873.85 505.54 L875.84 505.54 L877.83 505.53 L879.81 505.53 L881.80 505.53 L883.79 505.53 L885.78 505.53 L887.77 505.53 L889.76 505.53 L891.75 505.53 L893.74 505.52 L895.73 505.52 L897.72 505.52 L899.71 505.52 L901.70 505.52 L903.69 505.52 L905.68 505.52 L907.67 505.52 L909.66 505.53 L911.65 505.53 L913.64 505.53 L915.63 505.53 L917.62 505.53 L919.61 505.53 L921.61 505.53 L923.60 505.53 L925.59 505.54 L927.58 505.54 L929.58 505.54 L931.57 505.54 L933.56 505.55 L935.55 505.55 L937.55 505.55 L939.54 505.55 L941.53 505.56 L943.53 505.56 L945.52 505.56 L947.52 505.57 L949.51 505.57 L951.51 505.58" fill="none" stroke="#f01e1e" stroke-width="2.6" stroke-dasharray="17.12 17.12" stroke-dashoffset="-2.5"/>
<path d="M126.00 17.00 L126.24 18.98 L126.48 20.96 L126.73 22.94 L126.97 24.92 L127.21 26.90 L127.46 28.88 L127.70 30.86 L127.94 32.84 L128.19 34.81 L128.43 36.79 L128.67 38.76 L128.92 40.74 L129.16 42.71 L129.40 44.68 L129.65 46.65 L129.89 48.62 L130.14 50.59 L130.39 52.56 L130.63 54.53 L130.88 56.50 L131.12 58.47 L131.37 60.43 L131.62 62.40 L131.87 64.36 L132.12 66.33 L132.37 68.29 L132.62 70.25 L132.87 72.22 L133.12 74.18 L133.37 76.14 L133.62 78.10 L133.88 80.06 L134.13 82.02 L134.39 83.97 L134.64 85.93 L134.90 87.89 L135.16 89.85 L135.41 91.80 L135.67 93.76 L135.93 95.71 L136.19 97.66 L136.46 99.62 L136.72 101.57 L136.98 103.52 L137.25 105.47 L137.51 107.42 L137.78 109.37 L138.05 111.32 L138.32 113.27 L138.59 115.22 L138.86 117.17 L139.13 119.12 L139.41 121.06 L139.68 123.01 L139.96 124.96 L140.23 126.90 L140.51 128.85 L140.79 130.79 L141.08 132.74 L141.36 134.68 L141.64 136.62 L141.93 138.56 L142.22 140.51 L142.51 142.45 L142.80 144.39 L143.09 146.33 L143.38 148.27 L143.68 150.21 L143.97 152.15 L144.27 154.09 L144.57 156.03 L144.88 157.97 L145.18 159.90 L145.48 161.84 L145.79 163.78 L146.10 165.71 L146.41 167.65 L146.72 169.59 L147.04 171.52 L147.35 173.46 L147.67 175.39 L147.99 177.33 L148.31 179.26 L148.64 181.20 L148.96 183.13 L149.29 185.06 L149.62 187.00 L149.95 188.93 L150.29 190.86 L150.62 192.79 L150.96 194.72 L151.30 196.66 L151.65 198.59 L151.99 200.52 L152.34 202.45 L152.69 204.38 L153.04 206.31 L153.40 208.24 L153.75 210.17 L154.11 212.10 L154.47 214.03 L154.84 215.96 L155.20 217.89 L155.57 219.82 L155.94 221.74 L156.32 223.67 L156.69 225.60 L157.07 227.53 L157.45 229.46 L157.84 231.38 L158.22 233.31 L158.61 235.24 L159.01 237.17 L159.40 239.09 L159.80 241.02 L160.20 242.95 L160.60 244.87 L161.01 246.80 L161.42 248.73 L161.83 250.65 L162.24 252.58 L162.66 254.51 L163.08 256.43 L163.50 258.36 L163.93 260.28 L164.36 262.21 L164.79 264.14 L165.23 266.06 L165.66 267.99 L166.11 269.91 L166.55 271.84 L167.00 273.77 L167.45 275.69 L167.90 277.62 L168.36 279.54 L168.82 281.47 L169.29 283.40 L169.75 285.32 L170.22 287.25 L170.70 289.17 L171.18 291.10 L171.66 293.03 L172.14 294.95 L172.63 296.88 L173.12 298.80 L173.61 300.73 L174.11 302.66 L174.61 304.58 L175.12 306.51 L175.63 308.44 L176.14 310.36 L176.66 312.29 L177.18 314.22 L177.70 316.14 L178.23 318.07 L178.76 320.00 L179.29 321.93 L179.83 323.85 L180.37 325.78 L180.92 327.71 L181.47 329.64 L182.02 331.57 L182.58 333.50 L183.14 335.42 L183.71 337.35 L184.28 339.28 L184.86 341.21 L185.44 343.13 L186.03 345.05 L186.62 346.98 L187.22 348.90 L187.82 350.82 L188.43 352.74 L189.05 354.65 L189.68 356.56 L190.31 358.47 L190.94 360.38 L191.59 362.29 L192.24 364.19 L192.90 366.09 L193.57 367.98 L194.25 369.87 L194.93 371.76 L195.62 373.65 L196.33 375.52 L197.04 377.40 L197.76 379.27 L198.49 381.14 L199.22 383.00 L199.97 384.85 L200.73 386.70 L201.50 388.54 L202.28 390.38 L203.07 392.22 L203.87 394.04 L204.68 395.86 L205.51 397.68 L206.34 399.48 L207.19 401.28 L208.05 403.07 L208.92 404.86 L209.80 406.64 L210.69 408.41 L211.60 410.17 L212.52 411.92 L213.46 413.67 L214.40 415.41 L215.37 417.14 L216.34 418.86 L217.33 420.57 L218.33 422.27 L219.35 423.96 L220.38 425.64 L221.43 427.32 L222.49 428.98 L223.57 430.63 L224.66 432.27 L225.77 433.90 L226.89 435.52 L228.02 437.13 L229.17 438.72 L230.34 440.31 L231.52 441.88 L232.72 443.43 L233.93 444.98 L235.15 446.51 L236.39 448.02 L237.64 449.52 L238.91 451.01 L240.20 452.48 L241.50 453.94 L242.81 455.38 L244.14 456.80 L245.48 458.21 L246.84 459.60 L248.21 460.98 L249.59 462.33 L251.00 463.67 L252.41 464.99 L253.84 466.30 L255.29 467.58 L256.75 468.84 L258.22 470.09 L259.71 471.32 L261.21 472.52 L262.73 473.71 L264.27 474.87 L265.81 476.02 L267.37 477.14 L268.95 478.24 L270.54 479.32 L272.14 480.39 L273.76 481.43 L275.39 482.44 L277.04 483.44 L278.69 484.42 L280.36 485.38 L282.04 486.32 L283.74 487.24 L285.44 488.14 L287.16 489.02 L288.88 489.88 L290.62 490.72 L292.37 491.54 L294.13 492.34 L295.90 493.13 L297.68 493.89 L299.47 494.64 L301.27 495.36 L303.08 496.07 L304.90 496.76 L306.72 497.44 L308.56 498.09 L310.40 498.73 L312.25 499.34 L314.11 499.94 L315.97 500.53 L317.85 501.09 L319.73 501.64 L321.61 502.17 L323.51 502.69 L325.41 503.18 L327.31 503.66 L329.22 504.13 L331.14 504.57 L333.06 505.00 L334.99 505.42 L336.92 505.82 L338.86 506.20 L340.80 506.56 L342.74 506.91 L344.69 507.25 L346.64 507.56 L348.60 507.87 L350.56 508.16 L352.52 508.43 L354.48 508.69 L356.45 508.93 L358.41 509.16 L360.38 509.37 L362.35 509.57 L364.32 509.75 L366.30 509.92 L368.27 510.08 L370.25 510.22 L372.23 510.36 L374.21 510.48 L376.19 510.59 L378.17 510.69 L380.15 510.77 L382.13 510.85 L384.12 510.92 L386.10 510.98 L388.09 511.03 L390.08 511.07 L392.06 511.10 L394.05 511.13 L396.04 511.15 L398.03 511.16 L400.02 511.16 L402.01 511.16 L404.00 511.16 L405.99 511.14 L407.99 511.13 L409.98 511.11 L411.97 511.08 L413.96 511.06 L415.95 511.03 L417.95 510.99 L419.94 510.96 L421.93 510.92 L423.92 510.88 L425.92 510.85 L427.91 510.81 L429.90 510.77 L431.89 510.73 L433.88 510.69 L435.87 510.65 L437.86 510.61 L439.85 510.57 L441.84 510.54 L443.83 510.50 L445.82 510.46 L447.81 510.42 L449.80 510.38 L451.79 510.34 L453.78 510.31 L455.76 510.27 L457.75 510.23 L459.74 510.19 L461.73 510.15 L463.71 510.12 L465.70 510.08 L467.69 510.04 L469.67 510.00 L471.66 509.97 L473.64 509.93 L475.63 509.89 L477.61 509.86 L479.60 509.82 L481.58 509.78 L483.57 509.75 L485.55 509.71 L487.53 509.67 L489.52 509.64 L491.50 509.60 L493.48 509.56 L495.47 509.53 L497.45 509.49 L499.43 509.46 L501.41 509.42 L503.40 509.38 L505.38 509.35 L507.36 509.31 L509.34 509.28 L511.32 509.24 L513.30 509.21 L515.28 509.17 L517.26 509.14 L519.24 509.10 L521.22 509.07 L523.20 509.03 L525.18 509.00 L527.16 508.97 L529.14 508.93 L531.12 508.90 L533.10 508.86 L535.08 508.83 L537.06 508.80 L539.03 508.76 L541.01 508.73 L542.99 508.69 L544.97 508.66 L546.95 508.63 L548.92 508.60 L550.90 508.56 L552.88 508.53 L554.85 508.50 L556.83 508.46 L558.81 508.43 L560.78 508.40 L562.76 508.37 L564.74 508.34 L566.71 508.30 L568.69 508.27 L570.66 508.24 L572.64 508.21 L574.61 508.18 L576.59 508.15 L578.56 508.12 L580.54 508.08 L582.51 508.05 L584.49 508.02 L586.46 507.99 L588.44 507.96 L590.41 507.93 L592.38 507.90 L594.36 507.87 L596.33 507.84 L598.31 507.81 L600.28 507.78 L602.25 507.75 L604.23 507.72 L606.20 507.70 L608.17 507.67 L610.14 507.64 L612.12 507.61 L614.09 507.58 L616.06 507.55 L618.03 507.52 L620.01 507.50 L621.98 507.47 L623.95 507.44 L625.92 507.41 L627.89 507.39 L629.87 507.36 L631.84 507.33 L633.81 507.30 L635.78 507.28 L637.75 507.25 L639.72 507.22 L641.70 507.20 L643.67 507.17 L645.64 507.15 L647.61 507.12 L649.58 507.09 L651.55 507.07 L653.52 507.04 L655.49 507.02 L657.46 506.99 L659.43 506.97 L661.40 506.94 L663.38 506.92 L665.35 506.90 L667.32 506.87 L669.29 506.85 L671.26 506.82 L673.23 506.80 L675.20 506.78 L677.17 506.75 L679.14 506.73 L681.11 506.71 L683.08 506.68 L685.05 506.66 L687.02 506.64 L688.99 506.62 L690.96 506.60 L692.93 506.57 L694.90 506.55 L696.87 506.53 L698.84 506.51 L700.81 506.49 L702.78 506.47 L704.75 506.45 L706.72 506.43 L708.69 506.41 L710.65 506.38 L712.62 506.36 L714.59 506.35 L716.56 506.33 L718.53 506.31 L720.50 506.29 L722.47 506.27 L724.44 506.25 L726.41 506.23 L728.38 506.21 L730.35 506.19 L732.32 506.18 L734.29 506.16 L736.26 506.14 L738.23 506.12 L740.20 506.10 L742.17 506.09 L744.14 506.07 L746.11 506.05 L748.08 506.04 L750.05 506.02 L752.02 506.01 L753.99 505.99 L755.96 505.97 L757.93 505.96 L759.90 505.94 L761.87 505.93 L763.84 505.91 L765.81 505.90 L767.78 505.88 L769.75 505.87 L771.72 505.86 L773.69 505.84 L775.66 505.83 L777.63 505.82 L779.60 505.80 L781.57 505.79 L783.54 505.78 L785.52 505.76 L787.49 505.75 L789.46 505.74 L791.43 505.73 L793.40 505.72 L795.37 505.70 L797.34 505.69 L799.31 505.68 L801.28 505.67 L803.26 505.66 L805.23 505.65 L807.20 505.64 L809.17 505.63 L811.14 505.62 L813.11 505.61 L815.09 505.60 L817.06 505.59 L819.03 505.58 L821.00 505.58 L822.98 505.57 L824.95 505.56 L826.92 505.55 L828.89 505.54 L830.87 505.54 L832.84 505.53 L834.81 505.52 L836.79 505.52 L838.76 505.51 L840.73 505.50 L842.71 505.50 L844.68 505.49 L846.65 505.49 L848.63 505.48 L850.60 505.48 L852.58 505.47 L854.55 505.47 L856.52 505.46 L858.50 505.46 L860.47 505.46 L862.45 505.45 L864.42 505.45 L866.40 505.45 L868.38 505.44 L870.35 505.44 L872.33 505.44 L874.30 505.44 L876.28 505.44 L878.25 505.43 L880.23 505.43 L882.21 505.43 L884.18 505.43 L886.16 505.43 L888.14 505.43 L890.12 505.43 L892.09 505.43 L894.07 505.43 L896.05 505.43 L898.03 505.43 L900.00 505.44 L901.98 505.44 L903.96 505.44 L905.94 505.44 L907.92 505.44 L909.90 505.45 L911.88 505.45 L913.86 505.45 L915.84 505.46 L917.82 505.46 L919.80 505.46 L921.78 505.47 L923.76 505.47 L925.74 505.48 L927.72 505.48 L929.70 505.49 L931.68 505.49 L933.66 505.50 L935.64 505.51 L937.63 505.51 L939.61 505.52 L941.59 505.53 L943.57 505.53 L945.56 505.54 L947.54 505.55 L949.52 505.56 L951.51 505.57" fill="none" stroke="#1e1ef0" stroke-width="2.6" stroke-dasharray="17.12 17.12" stroke-dashoffset="-2.5"/>
<path d="M126.00 17.00 L126.24 18.94 L126.48 20.89 L126.71 22.83 L126.95 24.78 L127.19 26.73 L127.43 28.67 L127.67 30.62 L127.91 32.56 L128.15 34.50 L128.39 36.45 L128.63 38.39 L128.87 40.34 L129.11 42.28 L129.36 44.22 L129.60 46.17 L129.85 48.11 L130.09 50.05 L130.34 51.99 L130.59 53.94 L130.84 55.88 L131.09 57.82 L131.34 59.76 L131.59 61.70 L131.84 63.64 L132.09 65.59 L132.35 67.53 L132.60 69.47 L132.86 71.41 L133.12 73.35 L133.38 75.29 L133.64 77.23 L133.90 79.16 L134.16 81.10 L134.42 83.04 L134.69 84.98 L134.95 86.92 L135.22 88.85 L135.49 90.79 L135.76 92.73 L136.03 94.67 L136.30 96.60 L136.57 98.54 L136.85 100.47 L137.13 102.41 L137.40 104.34 L137.68 106.28 L137.96 108.21 L138.25 110.15 L138.53 112.08 L138.81 114.01 L139.10 115.95 L139.39 117.88 L139.68 119.81 L139.97 121.74 L140.26 123.67 L140.56 125.61 L140.86 127.54 L141.15 129.47 L141.45 131.40 L141.75 133.33 L142.06 135.26 L142.36 137.18 L142.67 139.11 L142.98 141.04 L143.29 142.97 L143.60 144.90 L143.92 146.82 L144.23 148.75 L144.55 150.67 L144.87 152.60 L145.20 154.53 L145.52 156.45 L145.85 158.37 L146.17 160.30 L146.50 162.22 L146.84 164.14 L147.17 166.07 L147.51 167.99 L147.85 169.91 L148.19 171.83 L148.53 173.75 L148.88 175.67 L149.23 177.59 L149.58 179.51 L149.93 181.43 L150.28 183.35 L150.64 185.26 L151.00 187.18 L151.36 189.10 L151.73 191.01 L152.09 192.93 L152.46 194.85 L152.84 196.76 L153.21 198.67 L153.59 200.59 L153.97 202.50 L154.35 204.41 L154.73 206.32 L155.12 208.24 L155.51 210.15 L155.90 212.06 L156.30 213.97 L156.69 215.88 L157.09 217.78 L157.50 219.69 L157.90 221.60 L158.31 223.51 L158.72 225.41 L159.14 227.32 L159.55 229.22 L159.97 231.13 L160.40 233.03 L160.82 234.94 L161.25 236.84 L161.68 238.74 L162.12 240.64 L162.55 242.54 L162.99 244.44 L163.44 246.34 L163.88 248.24 L164.33 250.14 L164.79 252.04 L165.24 253.94 L165.70 255.83 L166.16 257.73 L166.63 259.63 L167.10 261.52 L167.57 263.41 L168.05 265.31 L168.52 267.20 L169.01 269.09 L169.49 270.98 L169.98 272.87 L170.47 274.76 L170.97 276.65 L171.47 278.54 L171.97 280.43 L172.47 282.32 L172.98 284.20 L173.50 286.09 L174.01 287.97 L174.53 289.86 L175.05 291.74 L175.58 293.63 L176.11 295.51 L176.65 297.39 L177.18 299.27 L177.72 301.15 L178.27 303.03 L178.82 304.91 L179.37 306.79 L179.93 308.66 L180.49 310.54 L181.05 312.42 L181.62 314.29 L182.19 316.16 L182.76 318.04 L183.34 319.91 L183.93 321.78 L184.51 323.65 L185.10 325.52 L185.70 327.39 L186.30 329.26 L186.90 331.13 L187.51 333.00 L188.12 334.86 L188.74 336.73 L189.36 338.59 L189.99 340.45 L190.62 342.31 L191.26 344.17 L191.90 346.03 L192.55 347.88 L193.21 349.73 L193.87 351.58 L194.54 353.43 L195.22 355.27 L195.90 357.12 L196.59 358.96 L197.29 360.79 L198.00 362.62 L198.71 364.45 L199.44 366.28 L200.17 368.10 L200.91 369.92 L201.67 371.74 L202.43 373.55 L203.20 375.35 L203.98 377.16 L204.77 378.95 L205.57 380.75 L206.38 382.54 L207.20 384.32 L208.04 386.10 L208.88 387.87 L209.74 389.64 L210.61 391.41 L211.49 393.16 L212.38 394.91 L213.29 396.66 L214.21 398.40 L215.14 400.13 L216.08 401.86 L217.04 403.58 L218.01 405.30 L219.00 407.01 L220.00 408.71 L221.01 410.40 L222.04 412.09 L223.09 413.77 L224.15 415.44 L225.22 417.11 L226.31 418.76 L227.42 420.41 L228.54 422.05 L229.68 423.69 L230.83 425.31 L232.00 426.93 L233.19 428.54 L234.39 430.13 L235.61 431.72 L236.84 433.29 L238.09 434.86 L239.35 436.41 L240.63 437.95 L241.92 439.48 L243.22 440.99 L244.54 442.50 L245.87 443.98 L247.22 445.46 L248.58 446.92 L249.95 448.36 L251.34 449.79 L252.74 451.20 L254.15 452.60 L255.58 453.98 L257.01 455.34 L258.46 456.69 L259.92 458.02 L261.40 459.33 L262.88 460.62 L264.38 461.89 L265.88 463.14 L267.40 464.37 L268.93 465.58 L270.47 466.77 L272.02 467.94 L273.58 469.08 L275.15 470.21 L276.73 471.31 L278.32 472.38 L279.93 473.44 L281.54 474.47 L283.15 475.48 L284.78 476.47 L286.42 477.44 L288.07 478.38 L289.73 479.30 L291.39 480.20 L293.06 481.09 L294.75 481.95 L296.44 482.79 L298.14 483.61 L299.84 484.41 L301.56 485.19 L303.28 485.95 L305.02 486.69 L306.76 487.41 L308.50 488.12 L310.26 488.81 L312.02 489.47 L313.79 490.12 L315.56 490.76 L317.35 491.37 L319.14 491.97 L320.94 492.55 L322.74 493.12 L324.55 493.67 L326.37 494.20 L328.19 494.72 L330.02 495.22 L331.86 495.71 L333.70 496.18 L335.55 496.64 L337.40 497.08 L339.26 497.51 L341.13 497.92 L343.00 498.32 L344.87 498.71 L346.75 499.08 L348.64 499.44 L350.53 499.79 L352.43 500.13 L354.33 500.45 L356.23 500.76 L358.14 501.06 L360.05 501.35 L361.97 501.62 L363.89 501.89 L365.82 502.15 L367.75 502.39 L369.68 502.63 L371.62 502.85 L373.56 503.07 L375.50 503.27 L377.45 503.47 L379.40 503.66 L381.36 503.84 L383.31 504.01 L385.27 504.17 L387.23 504.32 L389.20 504.47 L391.17 504.61 L393.13 504.74 L395.11 504.87 L397.08 504.99 L399.06 505.10 L401.03 505.21 L403.01 505.31 L404.99 505.40 L406.97 505.49 L408.96 505.58 L410.94 505.66 L412.93 505.73 L414.92 505.80 L416.90 505.87 L418.89 505.93 L420.88 505.99 L422.87 506.05 L424.86 506.10 L426.85 506.15 L428.84 506.20 L430.83 506.25 L432.82 506.29 L434.81 506.33 L436.81 506.37 L438.80 506.41 L440.78 506.45 L442.77 506.49 L444.76 506.52 L446.75 506.56 L448.74 506.59 L450.72 506.63 L452.71 506.66 L454.69 506.69 L456.68 506.73 L458.66 506.76 L460.64 506.79 L462.63 506.82 L464.61 506.85 L466.59 506.87 L468.57 506.90 L470.55 506.93 L472.53 506.95 L474.51 506.98 L476.49 507.00 L478.47 507.03 L480.44 507.05 L482.42 507.07 L484.40 507.09 L486.37 507.11 L488.35 507.13 L490.33 507.15 L492.30 507.17 L494.27 507.19 L496.25 507.21 L498.22 507.22 L500.19 507.24 L502.16 507.26 L504.14 507.27 L506.11 507.29 L508.08 507.30 L510.05 507.31 L512.02 507.33 L513.99 507.34 L515.95 507.35 L517.92 507.36 L519.89 507.37 L521.86 507.38 L523.82 507.39 L525.79 507.40 L527.76 507.40 L529.72 507.41 L531.69 507.42 L533.65 507.42 L535.61 507.43 L537.58 507.43 L539.54 507.44 L541.50 507.44 L543.47 507.45 L545.43 507.45 L547.39 507.45 L549.35 507.45 L551.31 507.46 L553.27 507.46 L555.23 507.46 L557.19 507.46 L559.15 507.46 L561.11 507.46 L563.07 507.45 L565.03 507.45 L566.99 507.45 L568.95 507.45 L570.90 507.44 L572.86 507.44 L574.82 507.44 L576.77 507.43 L578.73 507.43 L580.68 507.42 L582.64 507.42 L584.59 507.41 L586.55 507.40 L588.50 507.40 L590.46 507.39 L592.41 507.38 L594.37 507.37 L596.32 507.37 L598.27 507.36 L600.22 507.35 L602.18 507.34 L604.13 507.33 L606.08 507.32 L608.03 507.31 L609.98 507.30 L611.93 507.29 L613.89 507.28 L615.84 507.26 L617.79 507.25 L619.74 507.24 L621.69 507.23 L623.64 507.21 L625.59 507.20 L627.54 507.19 L629.48 507.17 L631.43 507.16 L633.38 507.15 L635.33 507.13 L637.28 507.12 L639.23 507.10 L641.17 507.09 L643.12 507.07 L645.07 507.06 L647.02 507.04 L648.96 507.02 L650.91 507.01 L652.86 506.99 L654.80 506.97 L656.75 506.96 L658.70 506.94 L660.64 506.92 L662.59 506.91 L664.54 506.89 L666.48 506.87 L668.43 506.85 L670.37 506.83 L672.32 506.82 L674.26 506.80 L676.21 506.78 L678.15 506.76 L680.10 506.74 L682.04 506.72 L683.99 506.70 L685.93 506.69 L687.88 506.67 L689.82 506.65 L691.77 506.63 L693.71 506.61 L695.66 506.59 L697.60 506.57 L699.55 506.55 L701.49 506.53 L703.43 506.51 L705.38 506.49 L707.32 506.47 L709.27 506.45 L711.21 506.43 L713.16 506.41 L715.10 506.39 L717.04 506.37 L718.99 506.35 L720.93 506.33 L722.88 506.31 L724.82 506.29 L726.76 506.27 L728.71 506.25 L730.65 506.23 L732.60 506.21 L734.54 506.19 L736.48 506.17 L738.43 506.15 L740.37 506.13 L742.32 506.11 L744.26 506.09 L746.21 506.08 L748.15 506.06 L750.09 506.04 L752.04 506.02 L753.98 506.00 L755.93 505.98 L757.87 505.96 L759.82 505.94 L761.76 505.92 L763.71 505.90 L765.65 505.89 L767.60 505.87 L769.54 505.85 L771.49 505.83 L773.43 505.81 L775.38 505.80 L777.33 505.78 L779.27 505.76 L781.22 505.74 L783.16 505.73 L785.11 505.71 L787.06 505.69 L789.00 505.68 L790.95 505.66 L792.90 505.65 L794.84 505.63 L796.79 505.61 L798.74 505.60 L800.69 505.58 L802.63 505.57 L804.58 505.55 L806.53 505.54 L808.48 505.53 L810.43 505.51 L812.37 505.50 L814.32 505.49 L816.27 505.47 L818.22 505.46 L820.17 505.45 L822.12 505.43 L824.07 505.42 L826.02 505.41 L827.97 505.40 L829.92 505.39 L831.87 505.38 L833.82 505.37 L835.78 505.36 L837.73 505.35 L839.68 505.34 L841.63 505.33 L843.58 505.32 L845.54 505.31 L847.49 505.31 L849.44 505.30 L851.40 505.29 L853.35 505.28 L855.30 505.28 L857.26 505.27 L859.21 505.27 L861.17 505.26 L863.12 505.26 L865.08 505.25 L867.04 505.25 L868.99 505.25 L870.95 505.24 L872.91 505.24 L874.86 505.24 L876.82 505.24 L878.78 505.23 L880.74 505.23 L882.70 505.23 L884.66 505.23 L886.62 505.23 L888.58 505.24 L890.54 505.24 L892.50 505.24 L894.46 505.24 L896.42 505.25 L898.38 505.25 L900.34 505.25 L902.31 505.26 L904.27 505.26 L906.23 505.27 L908.20 505.28 L910.16 505.28 L912.12 505.29 L914.09 505.30 L916.05 505.31 L918.02 505.32 L919.99 505.33 L921.95 505.34 L923.92 505.35 L925.89 505.36 L927.86 505.37 L929.83 505.38 L931.79 505.40 L933.76 505.41 L935.73 505.42 L937.70 505.44 L939.68 505.46 L941.65 505.47 L943.62 505.49 L945.59 505.51 L947.56 505.53 L949.54 505.54 L951.51 505.56" fill="none" stroke="#00e6f0" stroke-width="2.6" stroke-dasharray="17.12 17.12" stroke-dashoffset="-2.5"/>
<path d="M126.00 530.00 V522.20 M126.00 2.30 V10.10 M167.15 530.00 V525.70 M167.15 2.30 V6.60 M208.30 530.00 V525.70 M208.30 2.30 V6.60 M249.45 530.00 V525.70 M249.45 2.30 V6.60 M290.60 530.00 V522.20 M290.60 2.30 V10.10 M331.75 530.00 V525.70 M331.75 2.30 V6.60 M372.90 530.00 V525.70 M372.90 2.30 V6.60 M414.05 530.00 V525.70 M414.05 2.30 V6.60 M455.20 530.00 V522.20 M455.20 2.30 V10.10 M496.35 530.00 V525.70 M496.35 2.30 V6.60 M537.50 530.00 V525.70 M537.50 2.30 V6.60 M578.65 530.00 V525.70 M578.65 2.30 V6.60 M619.80 530.00 V522.20 M619.80 2.30 V10.10 M660.95 530.00 V525.70 M660.95 2.30 V6.60 M702.10 530.00 V525.70 M702.10 2.30 V6.60 M743.25 530.00 V525.70 M743.25 2.30 V6.60 M784.40 530.00 V522.20 M784.40 2.30 V10.10 M825.55 530.00 V525.70 M825.55 2.30 V6.60 M866.70 530.00 V525.70 M866.70 2.30 V6.60 M907.85 530.00 V525.70 M907.85 2.30 V6.60 M949.00 530.00 V522.20 M949.00 2.30 V10.10 M109.00 505.00 H116.80 M966.00 505.00 H958.20 M109.00 480.60 H113.30 M966.00 480.60 H961.70 M109.00 456.20 H113.30 M966.00 456.20 H961.70 M109.00 431.80 H113.30 M966.00 431.80 H961.70 M109.00 407.40 H116.80 M966.00 407.40 H958.20 M109.00 383.00 H113.30 M966.00 383.00 H961.70 M109.00 358.60 H113.30 M966.00 358.60 H961.70 M109.00 334.20 H113.30 M966.00 334.20 H961.70 M109.00 309.80 H116.80 M966.00 309.80 H958.20 M109.00 285.40 H113.30 M966.00 285.40 H961.70 M109.00 261.00 H113.30 M966.00 261.00 H961.70 M109.00 236.60 H113.30 M966.00 236.60 H961.70 M109.00 212.20 H116.80 M966.00 212.20 H958.20 M109.00 187.80 H113.30 M966.00 187.80 H961.70 M109.00 163.40 H113.30 M966.00 163.40 H961.70 M109.00 139.00 H113.30 M966.00 139.00 H961.70 M109.00 114.60 H116.80 M966.00 114.60 H958.20 M109.00 90.20 H113.30 M966.00 90.20 H961.70 M109.00 65.80 H113.30 M966.00 65.80 H961.70 M109.00 41.40 H113.30 M966.00 41.40 H961.70 M109.00 17.00 H116.80 M966.00 17.00 H958.20" stroke="#000" stroke-width="1.6" fill="none"/>
<rect x="109.00" y="2.30" width="857.00" height="527.70" fill="none" stroke="#000" stroke-width="2"/>
<line x1="202.80" y1="466.80" x2="301.53" y2="345.52" stroke="#747474" stroke-width="1.6"/>
<path d="M320.60 322.10 L306.91 352.86 L301.53 345.52 L293.26 341.75 Z" fill="#000"/>
<line x1="588.1" y1="48.9" x2="709.6" y2="48.9" stroke="#1010dc" stroke-width="2.6"/>
<path d="M589.9 94.6 H605.1 M618.4 94.6 H632.1 M645.6 94.6 H659.5 M672.6 94.6 H686.0 M699.7 94.6 H711.1" stroke="#1010dc" stroke-width="2.6"/>
<text x="0" y="0" transform="translate(53.02 515.40) scale(1.000 1.020)" style="font-size:40.00px;">0.0</text>
<text x="0" y="0" transform="translate(53.71 417.80) scale(1.000 1.020)" style="font-size:40.00px;">0.2</text>
<text x="0" y="0" transform="translate(52.12 320.20) scale(1.000 1.020)" style="font-size:40.00px;">0.4</text>
<text x="0" y="0" transform="translate(52.69 222.60) scale(1.000 1.020)" style="font-size:40.00px;">0.6</text>
<text x="0" y="0" transform="translate(53.02 125.00) scale(1.000 1.020)" style="font-size:40.00px;">0.8</text>
<text x="0" y="0" transform="translate(53.02 27.40) scale(1.000 1.020)" style="font-size:40.00px;">1.0</text>
<text x="115.20" y="569.80" style="font-size:40.00px;">0</text>
<text x="280.02" y="569.80" style="font-size:40.00px;">2</text>
<text x="444.32" y="569.80" style="font-size:40.00px;">4</text>
<text x="608.74" y="569.80" style="font-size:40.00px;">6</text>
<text x="773.60" y="569.80" style="font-size:40.00px;">8</text>
<text x="927.20" y="569.80" style="font-size:40.00px;">10</text>
<text x="0" y="0" transform="translate(524.46 626.00) scale(1.080 1.000)" style="font-size:40.00px;font-style:italic;">η</text>
<g transform="translate(31.2 299.6) rotate(-90)"><text x="-0.05" y="0.00" style="font-size:40.00px;font-style:italic;">θ</text><text x="21.34" y="0.00" style="font-size:40.00px;">(</text><text x="35.57" y="0.00" style="font-size:40.00px;font-style:italic;">η</text><text x="57.61" y="0.00" style="font-size:40.00px;">)</text></g>
<path d="M879.50 45.70 H895.50 M879.50 52.40 H895.50" stroke="#000" stroke-width="1.70"/>
<text x="0" y="0" transform="translate(721.79 57.00) scale(1.000 1.060)" style="font-size:29.50px;" class="s">Cylinder</text>
<text x="0" y="0" transform="translate(830.87 57.00) scale(1.000 1.060)" style="font-size:29.50px;" class="s">:</text>
<text x="0" y="0" transform="translate(844.64 57.00) scale(1.000 1.060)" style="font-size:29.50px;font-style:italic;" class="s">δ</text>
<text x="0" y="0" transform="translate(858.54 62.00) scale(0.850 1.060)" style="font-size:23.50px;" class="s">1</text>
<text x="0" y="0" transform="translate(905.08 57.00) scale(1.000 1.060)" style="font-size:29.50px;letter-spacing:0.60px;" class="s">0.3</text>
<path d="M858.80 88.00 H875.20 M858.80 94.70 H875.20" stroke="#000" stroke-width="1.70"/>
<text x="0" y="0" transform="translate(743.25 99.30) scale(1.000 1.060)" style="font-size:29.50px;" class="s">Plate</text>
<text x="0" y="0" transform="translate(810.57 99.30) scale(1.000 1.060)" style="font-size:29.50px;" class="s">:</text>
<text x="0" y="0" transform="translate(824.24 99.30) scale(1.000 1.060)" style="font-size:29.50px;font-style:italic;" class="s">δ</text>
<text x="0" y="0" transform="translate(838.84 104.30) scale(0.850 1.060)" style="font-size:23.50px;" class="s">1</text>
<text x="0" y="0" transform="translate(884.08 99.30) scale(1.000 1.060)" style="font-size:29.50px;letter-spacing:0.60px;" class="s">0.0</text>
<g transform="translate(338.40 297.80) skewX(-12)"><ellipse cx="0" cy="0" rx="8.2" ry="9.9" fill="#000"/><ellipse cx="0.2" cy="0" rx="5.7" ry="8.8" fill="#fff"/></g>
<path d="M328.8 312.4 C331.2 310.4 334.2 310.0 336.4 311.4 C338.6 312.8 341.2 313.8 344.6 311.6" fill="none" stroke="#000" stroke-width="1.4" stroke-linecap="round"/>
<path d="M332.6 305.8 L329.4 311.8" stroke="#000" stroke-width="1.2"/>
<text x="0" y="0" transform="translate(348.44 313.40) scale(1.050 1.000)" style="font-size:20.50px;font-style:italic;" class="n">ε</text>
<path d="M368.80 297.30 H385.10 M368.80 303.80 H385.10" stroke="#000" stroke-width="1.70"/>
<text x="0" y="0" transform="translate(394.28 308.00) scale(1.000 1.050)" style="font-size:29.50px;letter-spacing:0.70px;" class="s">0.1,</text>
<text x="0" y="0" transform="translate(449.48 308.00) scale(1.000 1.050)" style="font-size:29.50px;letter-spacing:0.70px;" class="s">0.4,</text>
<text x="0" y="0" transform="translate(505.88 308.00) scale(1.000 1.050)" style="font-size:29.50px;letter-spacing:0.70px;" class="s">0.7.</text>
</svg>
</body></html>
